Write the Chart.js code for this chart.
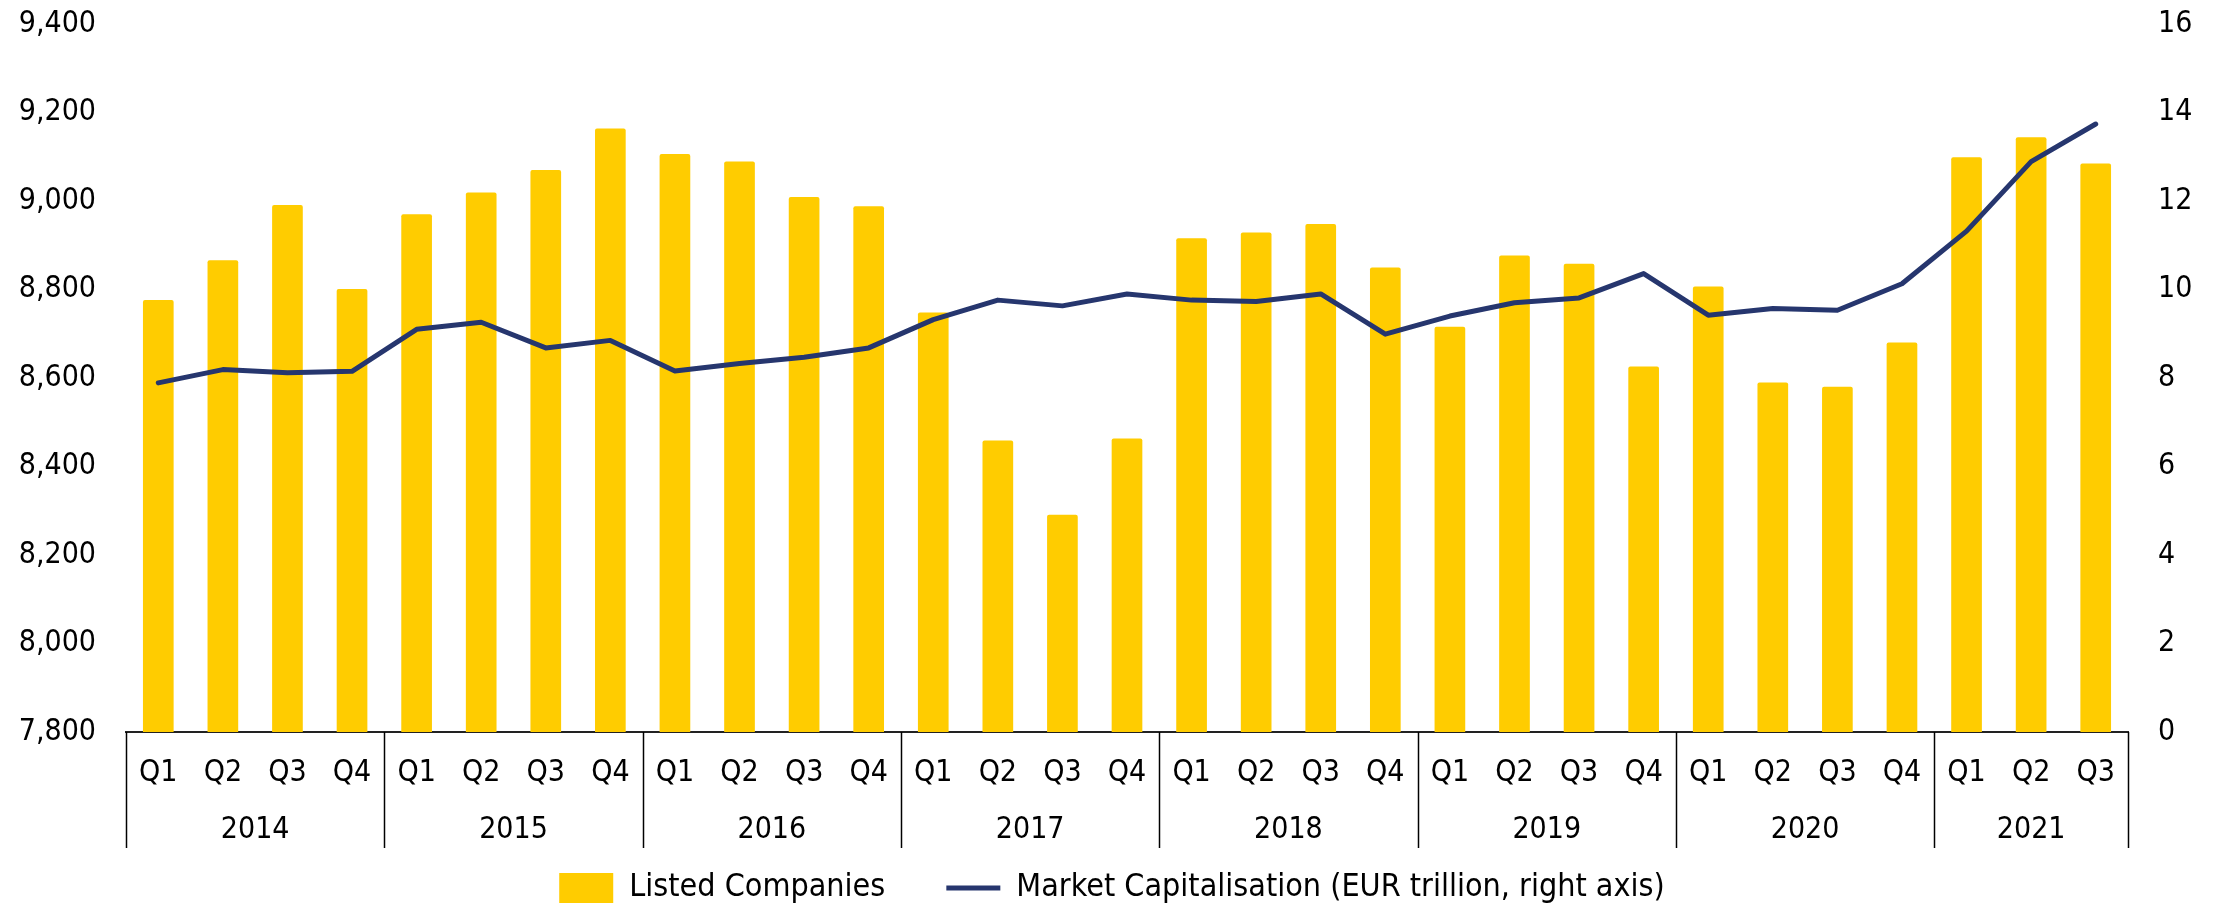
<!DOCTYPE html>
<html>
<head>
<meta charset="utf-8">
<script src="https://cdn.jsdelivr.net/npm/chart.js@4"></script>
<style>
  body { margin: 0; background: #fff; }
  canvas { display: block; }
</style>
</head>
<body>
<canvas id="chart" width="2224" height="908"></canvas>
<script>
var quarters = ["Q1", "Q2", "Q3", "Q4", "Q1", "Q2", "Q3", "Q4", "Q1", "Q2", "Q3", "Q4",
    "Q1", "Q2", "Q3", "Q4", "Q1", "Q2", "Q3", "Q4", "Q1", "Q2", "Q3", "Q4",
    "Q1", "Q2", "Q3", "Q4", "Q1", "Q2", "Q3"];
var years = ["2014", "2015", "2016", "2017", "2018", "2019", "2020", "2021"];
var quartersPerYear = [4, 4, 4, 4, 4, 4, 4, 3];

var listedCompanies = [8776, 8866, 8991, 8801, 8970, 9019, 9070, 9164, 9106, 9089, 9009, 8988,
    8748, 8459, 8291, 8463, 8916, 8929, 8948, 8850, 8716, 8877, 8858, 8626,
    8807, 8590, 8580, 8680, 9099, 9144, 9085];
var marketCap = [7.89, 8.19, 8.12, 8.15, 9.10, 9.26, 8.68, 8.85, 8.16, 8.33, 8.47, 8.68,
    9.32, 9.76, 9.63, 9.90, 9.76, 9.73, 9.90, 8.99, 9.40, 9.70, 9.81, 10.36,
    9.42, 9.57, 9.53, 10.13, 11.32, 12.89, 13.74];

var leftAxis = [7800, 9400, 200];
var rightAxis = [0, 16, 2];

var FONT = "'DejaVu Sans Condensed', 'DejaVu Sans', sans-serif";

// year row + separators under the quarter labels
var yearRows = {
    id: "yearRows",
    afterDraw: function (chart) {
        var x = chart.scales.x;
        var c = chart.ctx;
        var top = chart.chartArea.bottom;
        c.save();
        c.strokeStyle = "#000";
        c.lineWidth = 1.5;
        c.fillStyle = "#000";
        c.font = "30px " + FONT;
        c.textAlign = "center";
        c.textBaseline = "middle";
        var start = 0;
        for (var i = 0; i < years.length; i++) {
            var end = start + quartersPerYear[i];
            var x0 = x.getPixelForValue(start - 0.5);
            var x1 = x.getPixelForValue(end - 0.5);
            c.beginPath();
            c.moveTo(Math.round(x0) + 0.5, top);
            c.lineTo(Math.round(x0) + 0.5, 848);
            c.stroke();
            c.fillText(years[i], (x0 + x1) / 2, 830);
            start = end;
        }
        var xr = x.getPixelForValue(start - 0.5);
        c.beginPath();
        c.moveTo(Math.round(xr) + 0.5, top);
        c.lineTo(Math.round(xr) + 0.5, 848);
        c.stroke();
        c.restore();
    }
};

function fixY(width) {
    return function (s) {
        s.width = width;
        s.paddingTop = 0;
        s.paddingBottom = 0;
    };
}

var ctx = document.getElementById("chart").getContext("2d");
var myChart = new Chart(ctx, {
    type: "bar",
    data: {
        labels: quarters,
        datasets: [
            {
                label: "Listed Companies",
                data: listedCompanies,
                backgroundColor: "#FFCC00",
                borderWidth: 0,
                borderRadius: 2,
                barPercentage: 0.475,
                categoryPercentage: 1,
                pointStyle: "rect",
                yAxisID: "y",
                order: 1,
            },
            {
                type: "line",
                label: "Market Capitalisation (EUR trillion, right axis)",
                data: marketCap,
                borderColor: "#26366E",
                backgroundColor: "#26366E",
                borderWidth: 5,
                pointRadius: 0,
                pointStyle: "line",
                tension: 0,
                borderCapStyle: "round",
                borderJoinStyle: "round",
                yAxisID: "y1",
                order: 0,
            },
        ],
    },
    options: {
        responsive: false,
        animation: false,
        layout: { padding: { top: 24, left: 0, right: 0, bottom: -6 } },
        plugins: {
            tooltip: { enabled: false },
            legend: {
                position: "bottom",
                labels: {
                    font: { family: FONT, size: 32 },
                    color: "#000",
                    usePointStyle: true,
                    pointStyleWidth: 54,
                    boxWidth: 54,
                    boxHeight: 30,
                    padding: 61,
                    sort: function (a, b) { return a.datasetIndex - b.datasetIndex; },
                },
            },
        },
        scales: {
            x: {
                grid: { display: false, drawTicks: false },
                border: { display: true, color: "#222", width: 2 },
                ticks: {
                    font: { family: FONT, size: 30 },
                    color: "#000",
                    padding: 23,
                    maxRotation: 0,
                    autoSkip: false,
                },
                afterFit: function (s) { s.height = 79; },
            },
            y: {
                position: "left",
                min: leftAxis[0],
                max: leftAxis[1],
                grid: { display: false, drawTicks: false },
                border: { display: false },
                ticks: {
                    stepSize: leftAxis[2],
                    font: { family: FONT, size: 30 },
                    color: "#000",
                    padding: 30,
                    callback: function (v) { return v.toLocaleString("en-US"); },
                },
                afterFit: fixY(126),
            },
            y1: {
                position: "right",
                min: rightAxis[0],
                max: rightAxis[1],
                grid: { display: false, drawTicks: false },
                border: { display: false },
                ticks: {
                    stepSize: rightAxis[2],
                    font: { family: FONT, size: 30 },
                    color: "#000",
                    padding: 30,
                },
                afterFit: fixY(96),
            },
        },
    },
    plugins: [yearRows],
});
</script>
</body>
</html>
